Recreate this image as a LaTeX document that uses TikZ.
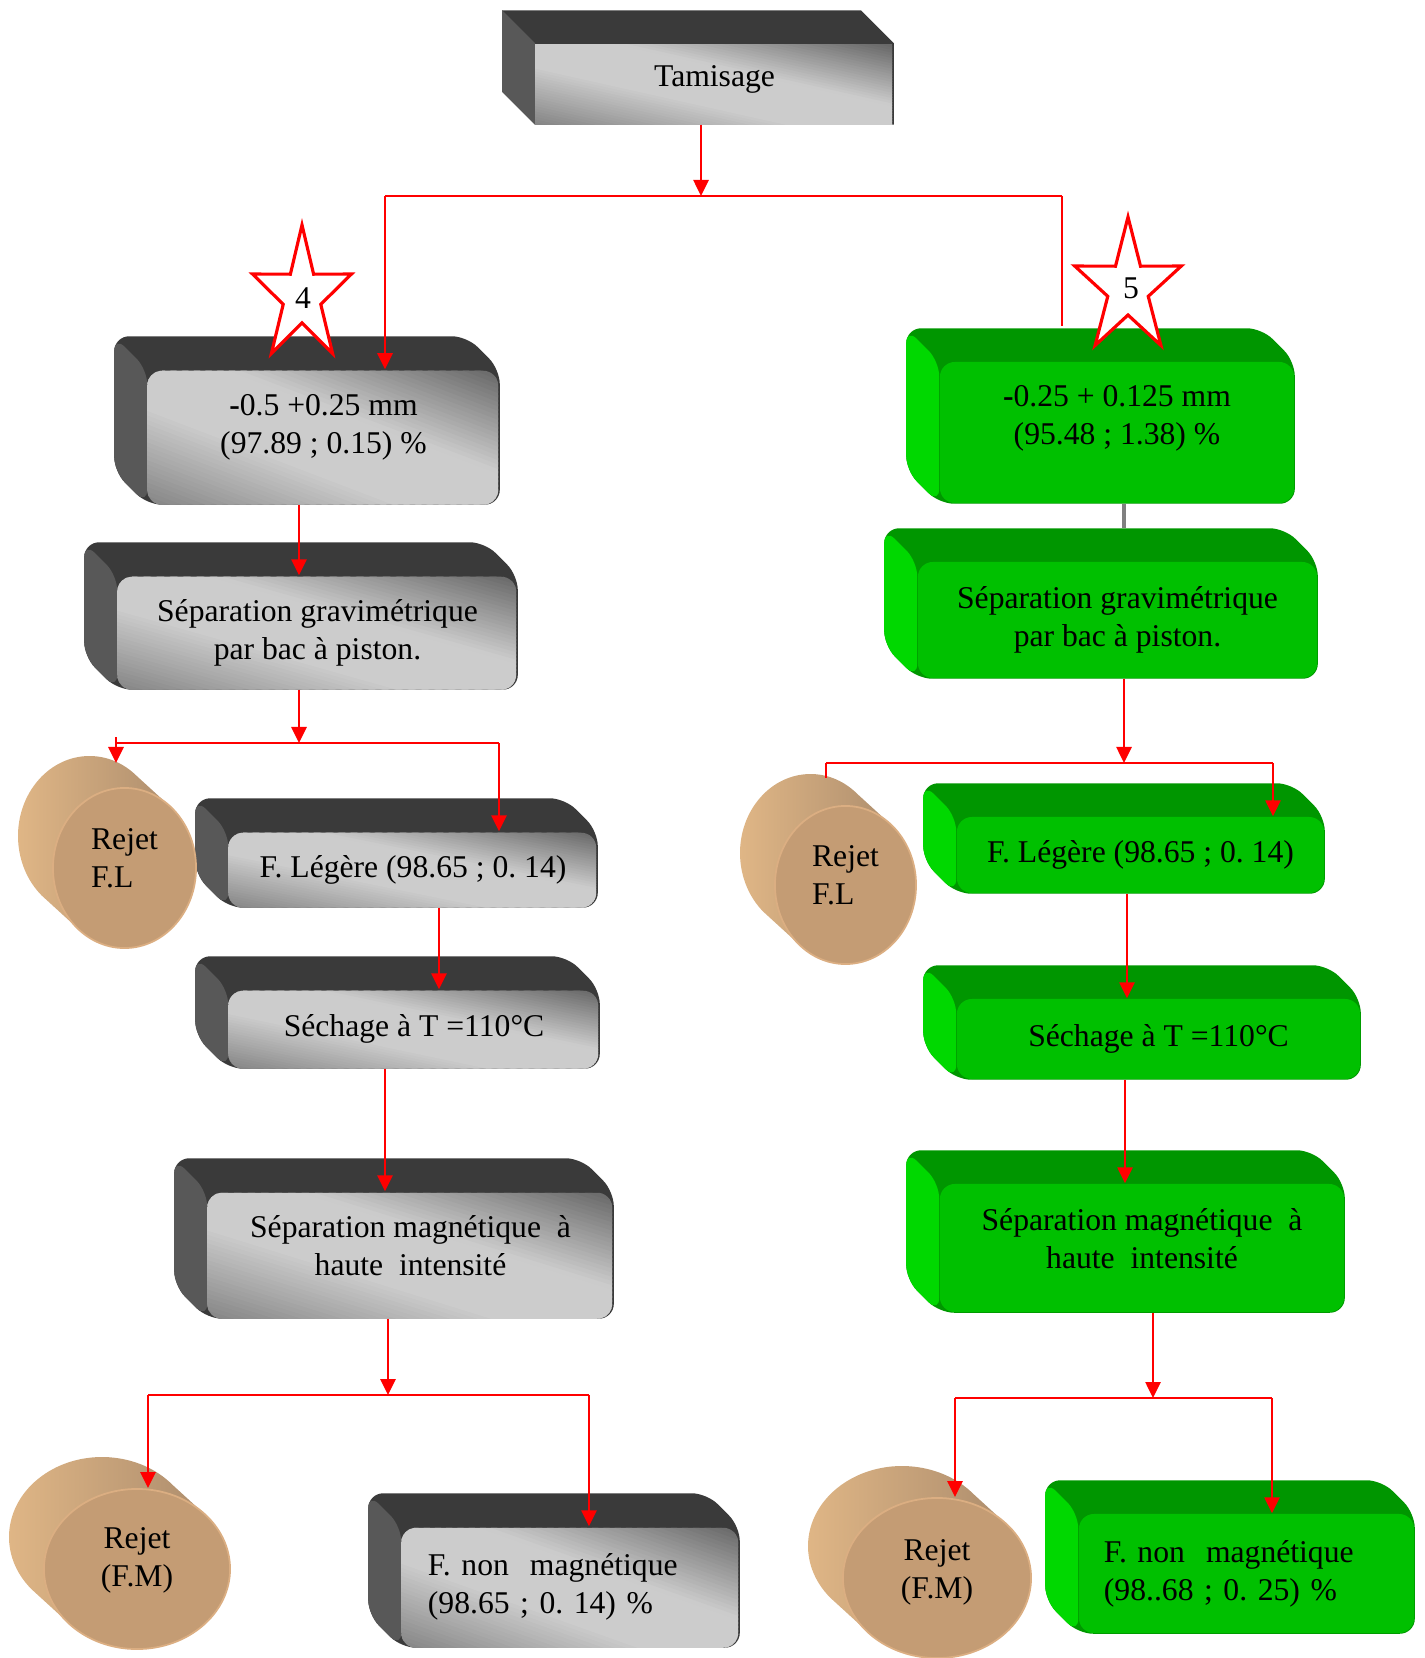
\documentclass[tikz,border=0pt]{standalone}
\usepackage{fontspec}
\setmainfont{Liberation Serif}
\usetikzlibrary{arrows.meta,shapes.geometric,backgrounds,calc}

\definecolor{grayTop}{HTML}{3A3A3A}
\definecolor{graySide}{HTML}{585858}
\definecolor{greenTop}{HTML}{009600}
\definecolor{greenSide}{HTML}{00D800}
\definecolor{greenFace}{HTML}{00C000}
\definecolor{cylFace}{HTML}{C49C74}
\definecolor{cylRim}{HTML}{DBAE82}
\definecolor{cylLight}{HTML}{E2B887}
\definecolor{cylDark}{HTML}{A48669}

% back faces of a box: node, top colour, side colour
\newcommand\extrude[3]{%
  \fill[#2] ([shift={(-33,-33)}]#1.north west) -- ([shift={(-33,-33)}]#1.north east)
    -- (#1.north east) -- (#1.south east) -- (#1.south west)
    -- ([shift={(-33,-33)}]#1.south west) -- cycle;
  \fill[#3] ([shift={(-33,-33)}]#1.north west) -- (#1.north west) -- (#1.south west)
    -- ([shift={(-33,-33)}]#1.south west) -- cycle;
}
% brushed grey front face: node, width, height
\newcommand\metalface[3]{%
  \begin{scope}[shift={(#1.south west)}]
    \clip (0,0) rectangle (#2,-#3);
    \foreach \i in {0,...,59}{
      \pgfmathsetmacro\ua{\i/60}
      \pgfmathsetmacro\ub{(\i+1.5)/60}
      \pgfmathsetmacro\um{(\i+0.5)/60}
      \pgfmathsetmacro\g{ifthenelse(\um<0.36,0.52+\um*0.78,ifthenelse(\um<0.62,0.8,0.8-(\um-0.62)*1.05))}
      \definecolor{metalstrip}{gray}{\g}
      \fill[metalstrip, sharp corners] ({(2*\ua+1)*#2},{#3}) -- ({(2*\ub+1)*#2},{#3})
        -- ({(2*\ub-2)*#2},{-2*#3}) -- ({(2*\ua-2)*#2},{-2*#3}) -- cycle;
    }
  \end{scope}
}
% side of a drum: node, x radius, y radius
\newcommand\drumside[3]{%
  \pgfmathsetmacro\drumt{atan(-#3/#2)}
  \shade[left color=cylLight, right color=cylDark] (#1.center) ++(\drumt:#2 and #3)
    arc[start angle=\drumt, end angle=\drumt+180, x radius=#2, y radius=#3] -- ++(-35,-32)
    arc[start angle=\drumt+180, end angle=\drumt+360, x radius=#2, y radius=#3] -- cycle;
}

\tikzset{
  flow/.style={red, line width=0.75pt, -{Triangle[length=0.16cm,width=0.15cm]}},
  link/.style={red, line width=0.75pt},
  metalbox/.style={inner sep=0pt, align=center},
  greenbox/.style={fill=greenFace, rounded corners=0.15cm, inner sep=0pt, align=center},
  rejet/.style={ellipse, fill=cylFace, draw=cylRim, line width=0.5pt, inner sep=0pt},
  lift/.style={text height=15pt, text depth=#1},
  starline/.style={draw=red, fill=white, line width=0.9pt}
}

\begin{document}
\begin{tikzpicture}[x=0.01cm, y=-0.01cm, font=\fontsize{9}{10.8}\selectfont\frenchspacing]
  \useasboundingbox (0,0) rectangle (1424,1658);

  \node[metalbox, text height=6pt, text depth=4.8pt, minimum width=3.57cm, minimum height=0.80cm] (tam) at (714.5,84) {Tamisage};

  \node[metalbox, lift=5.8pt, minimum width=3.51cm, minimum height=1.34cm] (frac4) at (323.5,437)
    {\textbf{-}0.5 +0.25 mm\\(97.89 ; 0.15) \%};
  \node[metalbox, minimum width=3.99cm, minimum height=1.13cm] (gravL) at (317.5,632.5)
    {Séparation gravimétrique\\par bac à piston.};
  \node[metalbox, minimum width=3.68cm, minimum height=0.75cm] (legL) at (413,869.5)
    {F. Légère (98.65 ; 0. 14)};
  \node[metalbox, minimum width=3.70cm, minimum height=0.78cm] (sechL) at (414,1029)
    {Séchage à T =110°C};
  \node[metalbox, lift=3.4pt, minimum width=4.05cm, minimum height=1.26cm] (magL) at (410.5,1255)
    {Séparation magnétique\ \ à\\haute\ \ intensité};
  \node[metalbox, align=left, text width=2.85cm, inner xsep=0.26cm, minimum height=1.20cm] (nonmagL) at (570.5,1587)
    {F. non\ \ magnétique\\(98.65 ; 0. 14) \%};

  \node[greenbox, lift=8.2pt, minimum width=3.54cm, minimum height=1.41cm] (frac5) at (1117,432.5)
    {\textbf{-}0.25 + 0.125 mm\\(95.48 ; 1.38) \%};
  \node[greenbox, minimum width=3.99cm, minimum height=1.16cm] (gravR) at (1117.5,620)
    {Séparation gravimétrique\\par bac à piston.};
  \node[greenbox, minimum width=3.67cm, minimum height=0.76cm] (legR) at (1140.5,855)
    {F. Légère (98.65 ; 0. 14)};
  \node[greenbox, minimum width=4.03cm, minimum height=0.80cm] (sechR) at (1158.5,1039)
    {Séchage à T =110°C};
  \node[greenbox, lift=3.4pt, minimum width=4.04cm, minimum height=1.28cm] (magR) at (1142,1248)
    {Séparation magnétique\ \ à\\haute\ \ intensité};
  \node[greenbox, align=left, text width=2.85cm, inner xsep=0.25cm, minimum height=1.19cm] (nonmagR) at (1246.5,1573.5)
    {F. non\ \ magnétique\\(98..68 ; 0. 25) \%};

  \node[rejet, lift=3.9pt, minimum width=1.43cm, minimum height=1.60cm, align=left] (rejFLL) at (124.5,868) {Rejet\\F.L};
  \node[rejet, lift=3.9pt, minimum width=1.41cm, minimum height=1.58cm, align=left] (rejFLR) at (845.5,885) {Rejet\\F.L};
  \node[rejet, lift=5pt, minimum width=1.86cm, minimum height=1.60cm, align=center] (rejFML) at (137,1569) {Rejet\\(F.M)};
  \node[rejet, lift=3.4pt, minimum width=1.88cm, minimum height=1.60cm, align=center] (rejFMR) at (937,1578) {Rejet\\(F.M)};

  \begin{scope}[on background layer]
    \extrude{tam}{grayTop}{graySide}
    \metalface{tam}{357}{80}
    \begin{scope}[rounded corners=0.15cm]
      \extrude{frac4}{grayTop}{graySide}
      \extrude{gravL}{grayTop}{graySide}
      \extrude{legL}{grayTop}{graySide}
      \extrude{sechL}{grayTop}{graySide}
      \extrude{magL}{grayTop}{graySide}
      \extrude{nonmagL}{grayTop}{graySide}
      \metalface{frac4}{351}{134}
      \metalface{gravL}{399}{113}
      \metalface{legL}{368}{75}
      \metalface{sechL}{370}{78}
      \metalface{magL}{405}{126}
      \metalface{nonmagL}{337}{120}
      \extrude{frac5}{greenTop}{greenSide}
      \extrude{gravR}{greenTop}{greenSide}
      \extrude{legR}{greenTop}{greenSide}
      \extrude{sechR}{greenTop}{greenSide}
      \extrude{magR}{greenTop}{greenSide}
      \extrude{nonmagR}{greenTop}{greenSide}
    \end{scope}
    \drumside{rejFLL}{71.5}{80}
    \drumside{rejFLR}{70.5}{79}
    \drumside{rejFML}{93}{80}
    \drumside{rejFMR}{94}{80}
  \end{scope}

  % stars
  \draw[starline, shift={(302,296)}] plot[samples at={0,...,9}]
    ({52*(1-0.62*mod(\x,2))*cos(-90+36*\x)}, {71*(1-0.62*mod(\x,2))*sin(-90+36*\x)}) -- cycle;
  \node (st4) at (303,298) {4};
  \draw[starline, shift={(1128,288)}] plot[samples at={0,...,9}]
    ({56*(1-0.62*mod(\x,2))*cos(-90+36*\x)}, {71*(1-0.62*mod(\x,2))*sin(-90+36*\x)}) -- cycle;
  \node (st5) at (1131,288) {5};

  % connectors
  \coordinate (s0) at (701,196);
  \coordinate (s0l) at (385,196);
  \coordinate (s0r) at (1062,196);
  \draw[flow] (s0 |- tam.south) -- (s0);
  \draw[link] (s0l) -- (s0r);
  \draw[flow] (s0l) -- (s0l |- frac4.north);
  \draw[link] (s0r) -- ($(s0r |- frac5.north)+(0,-35)$);

  \coordinate (s1) at (299,743);
  \coordinate (s1l) at (116,743);
  \coordinate (s1r) at (499,743);
  \coordinate (x2) at (439,0);
  \coordinate (x3) at (385,0);
  \coordinate (s2) at (388,1395);
  \coordinate (s2l) at (148,1395);
  \coordinate (s2r) at (589,1395);
  \draw[flow] (s1 |- frac4.south) -- (s1 |- gravL.north);
  \draw[flow] (s1 |- gravL.south) -- (s1);
  \draw[link] (s1l) -- (s1r);
  \draw[flow] (s1l) ++(0,-6) -- ++(0,26);
  \draw[flow] (s1r) -- (s1r |- legL.north);
  \draw[flow] (x2 |- legL.south) -- (x2 |- sechL.north);
  \draw[flow] (x3 |- sechL.south) -- (x3 |- magL.north);
  \draw[flow] (s2 |- magL.south) -- (s2);
  \draw[link] (s2l) -- (s2r);
  \draw[flow] (s2l) -- (s2l |- rejFML.north);
  \draw[flow] (s2r) -- (s2r |- nonmagL.north);

  \coordinate (x4) at (1124,0);
  \coordinate (s3) at (1124,763);
  \coordinate (s3l) at (826,763);
  \coordinate (s3r) at (1273,763);
  \coordinate (x5) at (1127,0);
  \coordinate (x6) at (1125,0);
  \coordinate (s4) at (1153,1398);
  \coordinate (s4l) at (955,1398);
  \coordinate (s4r) at (1272,1398);
  \draw[gray, line width=0.9pt] (x4 |- frac5.south) -- ($(x4 |- gravR.north)+(0,-33)$);
  \draw[flow] (s3 |- gravR.south) -- (s3);
  \draw[link] (s3l) -- (s3r);
  \draw[link] (s3l) -- ++(0,15);
  \draw[flow] (s3r) -- (s3r |- legR.north);
  \draw[flow] (x5 |- legR.south) -- (x5 |- sechR.north);
  \draw[flow] (x6 |- sechR.south) -- (x6 |- magR.north);
  \draw[flow] (s4 |- magR.south) -- (s4);
  \draw[link] (s4l) -- (s4r);
  \draw[flow] (s4l) -- (s4l |- rejFMR.north);
  \draw[flow] (s4r) -- (s4r |- nonmagR.north);
\end{tikzpicture}
\end{document}
